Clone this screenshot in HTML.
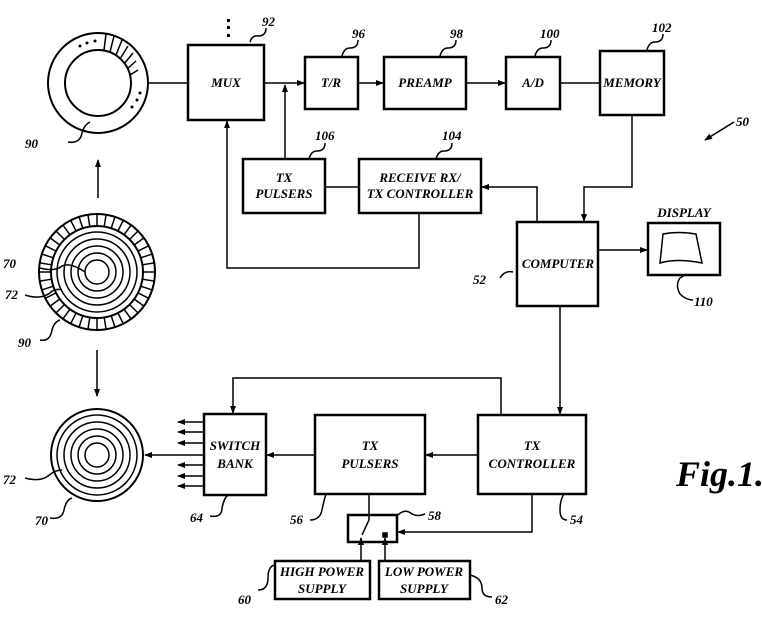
<!DOCTYPE html>
<html><head><style>html,body{margin:0;padding:0;background:#fff}svg{display:block}
text{font-family:"Liberation Serif",serif;font-weight:bold;font-style:italic;fill:#000}</style></head>
<body>
<svg width="762" height="619" viewBox="0 0 762 619" xmlns="http://www.w3.org/2000/svg">
<defs>
<marker id="a" markerWidth="8" markerHeight="8" refX="7" refY="4" orient="auto" markerUnits="userSpaceOnUse"><path d="M0,1 L8,4 L0,7 Z" fill="#000"/></marker>
</defs>
<g fill="none" stroke="#000" stroke-width="1.5">
<!-- circles -->
<circle cx="98" cy="83" r="50" stroke-width="2"/>
<circle cx="98" cy="83" r="33" stroke-width="2"/>
<g stroke-width="1.5">
<path d="M106,34 L104,50 M114,36 L110,52 M122,40 L116,55 M128,46 L120,59 M133,53 L124,64 M136,61 L127,69 M138,70 L130,75"/>
</g>
<line x1="148" y1="83" x2="188" y2="83"/>
<line x1="98" y1="198" x2="98" y2="160" marker-end="url(#a)"/>
<circle cx="97" cy="272" r="58" stroke-width="2"/>
<circle cx="97" cy="272" r="46" stroke-width="2"/>
<circle cx="97" cy="272" r="40"/><circle cx="97" cy="272" r="33"/><circle cx="97" cy="272" r="26"/><circle cx="97" cy="272" r="19"/><circle cx="97" cy="272" r="12"/>
<g id="ticks" stroke-width="1.5"></g>
<line x1="97" y1="350" x2="97" y2="396" marker-end="url(#a)"/>
<circle cx="97" cy="455" r="46" stroke-width="2"/>
<circle cx="97" cy="455" r="40"/><circle cx="97" cy="455" r="33"/><circle cx="97" cy="455" r="26"/><circle cx="97" cy="455" r="19"/><circle cx="97" cy="455" r="12"/>
<!-- boxes -->
<g stroke-width="2.5">
<rect x="188" y="45" width="76" height="75"/>
<rect x="305" y="57" width="53" height="52"/>
<rect x="384" y="57" width="82" height="52"/>
<rect x="506" y="57" width="54" height="52"/>
<rect x="600" y="51" width="64" height="64"/>
<rect x="243" y="159" width="82" height="54"/>
<rect x="359" y="159" width="122" height="54"/>
<rect x="517" y="222" width="81" height="84"/>
<rect x="648" y="223" width="72" height="52"/>
<rect x="204" y="414" width="62" height="81"/>
<rect x="315" y="415" width="110" height="79"/>
<rect x="478" y="415" width="108" height="79"/>
<rect x="348" y="515" width="49" height="27"/>
<rect x="275" y="561" width="95" height="38"/>
<rect x="379" y="561" width="91" height="38"/>
</g>
<path d="M663,234 Q678,231 696,234 L702,263 Q677,258 660,263 Z" stroke-width="1.5"/>
<!-- connectors -->
<line x1="264" y1="83" x2="304" y2="83" marker-end="url(#a)"/>
<line x1="358" y1="83" x2="383" y2="83" marker-end="url(#a)"/>
<line x1="466" y1="83" x2="505" y2="83" marker-end="url(#a)"/>
<line x1="560" y1="83" x2="600" y2="83"/>
<line x1="285" y1="159" x2="285" y2="85" marker-end="url(#a)"/>
<line x1="325" y1="187" x2="359" y2="187"/>
<polyline points="537,222 537,187 482,187" marker-end="url(#a)"/>
<polyline points="632,115 632,187 584,187 584,221" marker-end="url(#a)"/>
<polyline points="419,213 419,268 227,268 227,121" marker-end="url(#a)"/>
<line x1="598" y1="250" x2="647" y2="250" marker-end="url(#a)"/>
<line x1="560" y1="306" x2="560" y2="414" marker-end="url(#a)"/>
<polyline points="501,415 501,378 233,378 233,413" marker-end="url(#a)"/>
<line x1="478" y1="455" x2="426" y2="455" marker-end="url(#a)"/>
<line x1="315" y1="455" x2="267" y2="455" marker-end="url(#a)"/>
<line x1="204" y1="455" x2="145" y2="455" marker-end="url(#a)"/>
<g>
<line x1="204" y1="422" x2="178" y2="422" marker-end="url(#a)"/>
<line x1="204" y1="432" x2="178" y2="432" marker-end="url(#a)"/>
<line x1="204" y1="443" x2="178" y2="443" marker-end="url(#a)"/>
<line x1="204" y1="465" x2="178" y2="465" marker-end="url(#a)"/>
<line x1="204" y1="476" x2="178" y2="476" marker-end="url(#a)"/>
<line x1="204" y1="486" x2="178" y2="486" marker-end="url(#a)"/>
</g>
<polyline points="532,494 532,532 398,532" marker-end="url(#a)"/>
<polyline points="369,494 369,520 362,535"/>
<line x1="361" y1="561" x2="361" y2="538" marker-end="url(#a)"/>
<line x1="385" y1="561" x2="385" y2="538" marker-end="url(#a)"/>
<rect x="383" y="533" width="4" height="4" fill="#000"/>
<!-- leader squiggles -->
<path d="M68,142 Q80,144 82,133 Q84,125 90,122"/>
<path d="M40,268 Q55,272 62,266 Q70,262 85,272"/>
<path d="M25,295 Q40,300 50,293 Q55,288 62,290"/>
<path d="M40,340 Q50,342 52,330 Q54,322 60,320"/>
<path d="M25,478 Q40,482 48,476 Q55,470 62,470"/>
<path d="M50,518 Q62,520 64,510 Q66,500 72,498"/>
<path d="M210,516 Q222,518 222,508 Q224,498 228,495"/>
<path d="M310,520 Q320,520 322,510 Q324,500 326,494"/>
<path d="M567,520 Q560,520 560,510 Q560,500 564,494"/>
<path d="M398,515 Q405,508 412,514 Q418,517 425,514"/>
<path d="M258,590 Q268,590 268,578 Q268,566 275,565"/>
<path d="M492,597 Q482,597 482,588 Q482,578 470,575"/>
<path d="M680,294 Q675,285 680,278 Q685,275 685,275"/>
<path d="M680,294 Q686,300 693,300"/>
<path d="M500,278 Q505,270 513,272"/>
<path d="M250,42 Q252,35 258,36 Q266,36 266,28"/>
<path d="M342,56 Q344,48 350,48 Q358,48 358,40"/>
<path d="M440,56 Q442,48 448,48 Q456,48 456,40"/>
<path d="M535,56 Q537,48 543,48 Q551,48 551,40"/>
<path d="M647,50 Q649,42 655,42 Q663,42 663,34"/>
<path d="M309,159 Q311,151 317,151 Q325,151 325,143"/>
<path d="M436,159 Q438,151 444,151 Q452,151 452,143"/>
</g>
<line x1="734" y1="122" x2="705" y2="140" stroke="#000" stroke-width="1.5" marker-end="url(#a)"/>
<g fill="#000">
<rect x="227" y="19" width="3" height="3"/><rect x="227" y="26" width="3" height="3"/><rect x="227" y="34" width="3" height="3"/>
<circle cx="80" cy="46" r="1.5"/><circle cx="87" cy="43" r="1.5"/><circle cx="95" cy="41" r="1.5"/>
<circle cx="140" cy="93" r="1.5"/><circle cx="137" cy="100" r="1.5"/><circle cx="132" cy="107" r="1.5"/>
</g>
<!-- labels -->
<g font-size="13" text-anchor="middle">
<text x="226" y="87">MUX</text>
<text x="331" y="87">T/R</text>
<text x="425" y="87">PREAMP</text>
<text x="533" y="87">A/D</text>
<text x="632" y="87">MEMORY</text>
<text x="284" y="182">TX</text><text x="284" y="198">PULSERS</text>
<text x="420" y="182">RECEIVE RX/</text><text x="420" y="198">TX CONTROLLER</text>
<text x="558" y="268">COMPUTER</text>
<text x="684" y="217">DISPLAY</text>
<text x="235" y="450">SWITCH</text><text x="235" y="468">BANK</text>
<text x="370" y="450">TX</text><text x="370" y="468">PULSERS</text>
<text x="532" y="450">TX</text><text x="532" y="468">CONTROLLER</text>
<text x="322" y="576">HIGH POWER</text><text x="322" y="593">SUPPLY</text>
<text x="424" y="576">LOW POWER</text><text x="424" y="593">SUPPLY</text>
</g>
<g font-size="13">
<text x="25" y="148">90</text><text x="3" y="268">70</text><text x="5" y="299">72</text><text x="18" y="347">90</text>
<text x="3" y="484">72</text><text x="35" y="525">70</text>
<text x="262" y="26">92</text><text x="352" y="38">96</text><text x="450" y="38">98</text><text x="540" y="38">100</text><text x="652" y="32">102</text>
<text x="315" y="140">106</text><text x="442" y="140">104</text>
<text x="473" y="284">52</text><text x="694" y="306">110</text><text x="736" y="126">50</text>
<text x="190" y="522">64</text><text x="290" y="524">56</text><text x="570" y="524">54</text>
<text x="428" y="520">58</text><text x="238" y="604">60</text><text x="495" y="604">62</text>
</g>
<text x="676" y="486" font-size="36">Fig.1.</text>
</svg>
<script>
var g=document.getElementById('ticks'),s='';
for(var i=0;i<40;i++){var t=i*Math.PI*2/40,c=Math.cos(t),n=Math.sin(t);
s+='<line x1="'+(97+46*c)+'" y1="'+(272+46*n)+'" x2="'+(97+58*c)+'" y2="'+(272+58*n)+'"/>';}
g.innerHTML=s;
</script>
</body></html>
